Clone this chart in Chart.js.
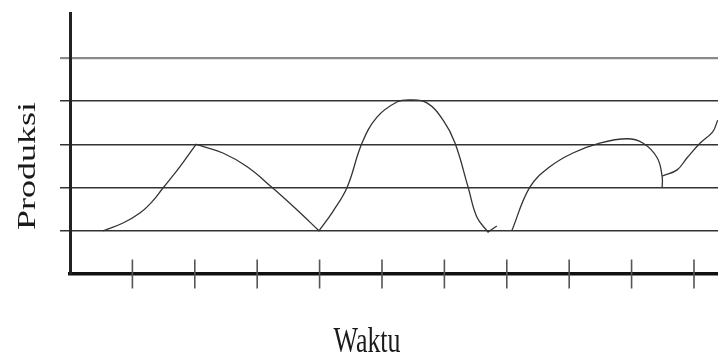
<!DOCTYPE html>
<html>
<head>
<meta charset="utf-8">
<script src="https://cdn.jsdelivr.net/npm/chart.js@4.4.1/dist/chart.umd.min.js"></script>
<style>
  body { margin: 0; background: #fff; }
  #wrap { width: 718px; height: 356px; position: relative; }
</style>
</head>
<body>
<div id="wrap"><canvas id="grafik"></canvas></div>
<script>
////// data
const waktu = [0.53, 0.85, 1.12, 1.32, 1.49, 1.76, 2.02, 2.02, 2.45, 2.84, 3.24, 3.64, 3.99, 3.99,
               4.21, 4.44, 4.68, 4.92, 5.24, 5.45, 5.72, 5.98, 6.17, 6.38, 6.52, 6.70, 6.70, 6.84,
               6.95, 7.08, 7.37, 7.69, 8.06, 8.49, 8.93, 9.18, 9.41, 9.49, 9.49,
               9.495, 9.50, 9.73, 9.89, 10.10, 10.30, 10.38];
const produksi = [1.0, 1.18, 1.41, 1.68, 1.99, 2.48, 3.0, 3.0, 2.80, 2.48, 2.0, 1.48, 1.0, 1.0,
                  1.44, 2.0, 3.03, 3.63, 3.98, 4.03, 3.96, 3.56, 3.03, 2.01, 1.32, 0.97, 0.97, 1.11,
                  null, 1.0, 2.01, 2.48, 2.80, 3.03, 3.13, 3.03, 2.69, 2.25, 2.0,
                  null, 2.27, 2.41, 2.69, 3.03, 3.29, 3.56];
const tickWaktu = [1, 2, 3, 4, 5, 6, 7, 8, 9, 10];
const gridProduksi = [1, 2, 3, 4, 5];
const judulX = "Waktu";
const judulY = "Produksi";

let titikKurva = waktu.map((x, i) => ({ x: x, y: produksi[i] }));
let titikTick = tickWaktu.map(x => ({ x: x, y: 0 }));

////// axis titles, squeezed like the scanned figure
const judulPlugin = {
    id: "judulSumbu",
    afterDraw(chart) {
        const ctx = chart.ctx;
        const area = chart.chartArea;
        ctx.save();
        ctx.fillStyle = "#1a1a1a";
        ctx.font = "36px 'Liberation Serif', 'DejaVu Serif', serif";
        ctx.textAlign = "center";
        ctx.textBaseline = "alphabetic";
        // x title
        ctx.save();
        ctx.translate(area.left + 297, 352);
        ctx.scale(0.72, 1);
        ctx.fillText(judulX, 0, 0);
        ctx.restore();
        // y title
        ctx.save();
        ctx.translate(35, 166);
        ctx.scale(0.72, 1);
        ctx.rotate(-Math.PI / 2);
        ctx.fillText(judulY, 0, 0);
        ctx.restore();
        ctx.restore();
    }
};

new Chart(document.getElementById("grafik"), {
    type: "line",
    data: {
        datasets: [{
            label: judulY,
            data: titikKurva,
            borderColor: "#333",
            borderWidth: 1.3,
            tension: 0.4,
            pointRadius: 0,
            fill: false,
            spanGaps: false
        }, {
            label: "tick",
            data: titikTick,
            showLine: false,
            pointStyle: "line",
            rotation: 90,
            pointRadius: 14.5,
            pointBorderColor: "#555",
            pointBorderWidth: 1.6,
            clip: false
        }]
    },
    options: {
        responsive: true,
        maintainAspectRatio: false,
        animation: false,
        layout: { autoPadding: false, padding: { left: 60, top: 13, right: 0, bottom: 82 } },
        plugins: { legend: { display: false }, tooltip: { enabled: false } },
        scales: {
            x: {
                type: "linear",
                min: 0,
                max: 10.385,
                ticks: { display: false },
                grid: { display: false, drawTicks: false },
                border: { color: "#111", width: 3.5 }
            },
            y: {
                min: 0,
                max: 6.04,
                afterBuildTicks: s => { s.ticks = gridProduksi.map(v => ({ value: v })); },
                ticks: { display: false },
                grid: {
                    tickLength: 10,
                    color: c => (c.tick && c.tick.value == 5) ? "#8a8a8a" : "#333",
                    lineWidth: c => (c.tick && c.tick.value == 5) ? 2.2 : 1.5
                },
                border: { color: "#222", width: 3 }
            }
        }
    },
    plugins: [judulPlugin]
});
</script>
</body>
</html>
